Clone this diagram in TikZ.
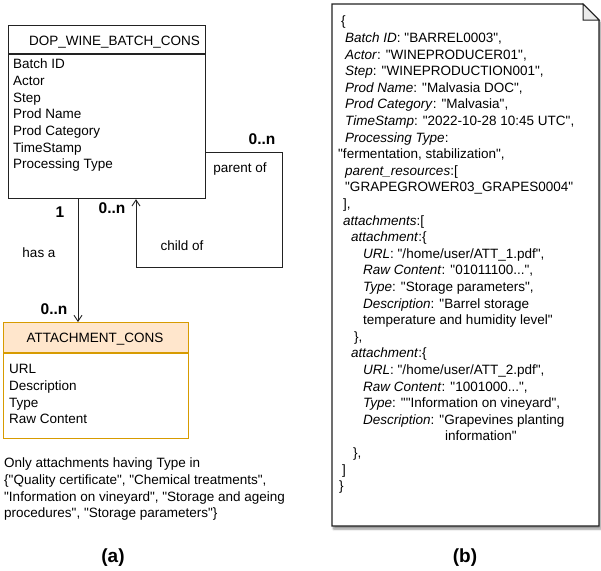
\documentclass[tikz,border=0pt]{standalone}
\usepackage{fontspec}
\setmainfont{Liberation Sans}[Ligatures=TeXOff]
\usetikzlibrary{arrows.meta,shadows.blur}

\definecolor{attfill}{HTML}{FFE6CC}
\definecolor{attline}{HTML}{D79B00}
\definecolor{foldfill}{HTML}{EBEBEB}
\definecolor{inkline}{HTML}{222222}

% one line of text, placed by its baseline
\newcommand{\tline}[4]{\node[txt] (#1) at (#2,#3) {#4};}

\begin{document}
\begin{tikzpicture}[x=1pt,y=-1pt,
  txt/.style={anchor=base west,inner sep=0pt,font=\fontsize{13.5}{16.6}\selectfont},
  ctxt/.style={anchor=base,inner sep=0pt,font=\fontsize{13.5}{16.6}\selectfont},
  mult/.style={anchor=base,inner sep=0pt,font=\fontsize{15.5}{18}\selectfont\bfseries},
  figlabel/.style={anchor=base,inner sep=0pt,font=\fontsize{19}{22}\selectfont\bfseries},
  entity/.style={draw=inkline,line width=1.2pt,inner sep=0pt,anchor=north west},
  link/.style={draw=inkline,line width=0.9pt},
  arr/.style={-{Straight Barb[length=6pt,width=8pt,line width=0.9pt]}}
]
\useasboundingbox (0,0) rectangle (601,570);

% ---------- DOP_WINE_BATCH_CONS entity ----------
\node[entity,minimum width=197pt,minimum height=173pt] (batch) at (8,25) {};
\draw[draw=inkline,line width=2pt] (8,54) -- (205,54);
\node[ctxt] (batchtitle) at (114.5,45.8) {DOP\_WINE\_BATCH\_CONS};
\tline{b1}{13}{68.8}{Batch ID}
\tline{b2}{13}{85.5}{Actor}
\tline{b3}{13}{102.1}{Step}
\tline{b4}{13}{118.8}{Prod Name}
\tline{b5}{13}{135.5}{Prod Category}
\tline{b6}{13}{152.2}{TimeStamp}
\tline{b7}{13}{168.8}{Processing Type}

% ---------- ATTACHMENT_CONS entity ----------
\fill[attfill] (3,322) rectangle (188,353);
\node[entity,draw=attline,minimum width=185pt,minimum height=116pt] (att) at (3,322) {};
\draw[draw=attline,line width=2pt] (3,353) -- (188,353);
\node[ctxt] (atttitle) at (95,342.8) {ATTACHMENT\_CONS};
\tline{a1}{9}{373.8}{URL}
\tline{a2}{9}{390.4}{Description}
\tline{a3}{9}{407.0}{Type}
\tline{a4}{9}{423.6}{Raw Content}

% ---------- self relation: parent of / child of ----------
\coordinate (selfR) at (282,152);
\coordinate (selfB) at (282,267);
\coordinate (selfL) at (136,267);
\draw[link,arr] (batch.east |- selfR) -- (selfR) -- (selfB) -- (selfL) -- (selfL |- batch.south);
\node[mult] (mparent) at (262,144.5) {0..n};
\node[ctxt] (lparent) at (240,172.8) {parent of};
\node[mult] (mchild) at (112,213.5) {0..n};
\node[ctxt] (lchild) at (182,250.8) {child of};

% ---------- relation: has a ----------
\coordinate (hasx) at (78,0);
\draw[link,arr] (batch.south -| hasx) -- (hasx |- att.north);
\node[mult] (mone) at (60,217.5) {1};
\node[ctxt] (lhas) at (39,257.8) {has a};
\node[mult] (mmany) at (54,314.5) {0..n};

% ---------- constraint note ----------
\tline{c1}{4}{467.8}{Only attachments having Type in}
\tline{c2}{4}{484.4}{\{"Quality certificate", "Chemical treatments",}
\tline{c3}{4}{501.0}{"Information on vineyard", "Storage and ageing}
\tline{c4}{4}{517.6}{procedures", "Storage parameters"\}}

% ---------- JSON document ----------
\path[draw=inkline,line width=1.2pt,fill=white,
  blur shadow={shadow xshift=1.5pt,shadow yshift=-3pt,shadow blur steps=6,shadow opacity=45}]
  (332,4) -- (583,4) -- (599,20) -- (599,526) -- (332,526) -- cycle;
\draw[draw=inkline,line width=1pt,fill=foldfill] (583,4) -- (583,20) -- (599,20) -- cycle;

\tline{j0}{341}{25.8}{\{}
\tline{j1}{345}{42.4}{\textit{Batch ID}: "BARREL0003",}
\tline{j2}{345}{59.0}{\textit{Actor}: "WINEPRODUCER01",}
\tline{j3}{345}{75.6}{\textit{Step}: "WINEPRODUCTION001",}
\tline{j4}{345}{92.2}{\textit{Prod Name}: "Malvasia DOC",}
\tline{j5}{345}{108.8}{\textit{Prod Category}: "Malvasia",}
\tline{j6}{345}{125.4}{\textit{TimeStamp}: "2022-10-28 10:45 UTC",}
\tline{j7}{345}{142.0}{\textit{Processing Type}:}
\tline{j8}{338}{158.6}{"fermentation, stabilization",}
\tline{j9}{345}{175.2}{\textit{parent\_resources}:[}
\tline{j10}{345}{191.8}{"GRAPEGROWER03\_GRAPES0004"}
\tline{j11}{343}{208.4}{],}
\tline{j12}{343}{225.0}{\textit{attachments}:[}
\tline{j13}{351}{241.6}{\textit{attachment}:\{}
\tline{j14}{363}{258.2}{\textit{URL}: "/home/user/ATT\_1.pdf",}
\tline{j15}{363}{274.8}{\textit{Raw Content}: "01011100...",}
\tline{j16}{363}{291.4}{\textit{Type}: "Storage parameters",}
\tline{j17}{363}{308.0}{\textit{Description}: "Barrel storage}
\tline{j18}{363}{324.6}{temperature and humidity level"}
\tline{j19}{354}{341.2}{\},}
\tline{j20}{351}{357.8}{\textit{attachment}:\{}
\tline{j21}{363}{374.4}{\textit{URL}: "/home/user/ATT\_2.pdf",}
\tline{j22}{363}{391.0}{\textit{Raw Content}: "1001000...",}
\tline{j23}{363}{407.6}{\textit{Type}: ""Information on vineyard",}
\tline{j24}{363}{424.2}{\textit{Description}: "Grapevines planting}
\tline{j25}{445}{440.8}{information"}
\tline{j26}{353}{457.4}{\},}
\tline{j27}{342}{474.0}{]}
\tline{j28}{339}{490.6}{\}}

% ---------- sub-figure labels ----------
\node[figlabel] (capa) at (113,562) {(a)};
\node[figlabel] (capb) at (465,562) {(b)};
\end{tikzpicture}
\end{document}
